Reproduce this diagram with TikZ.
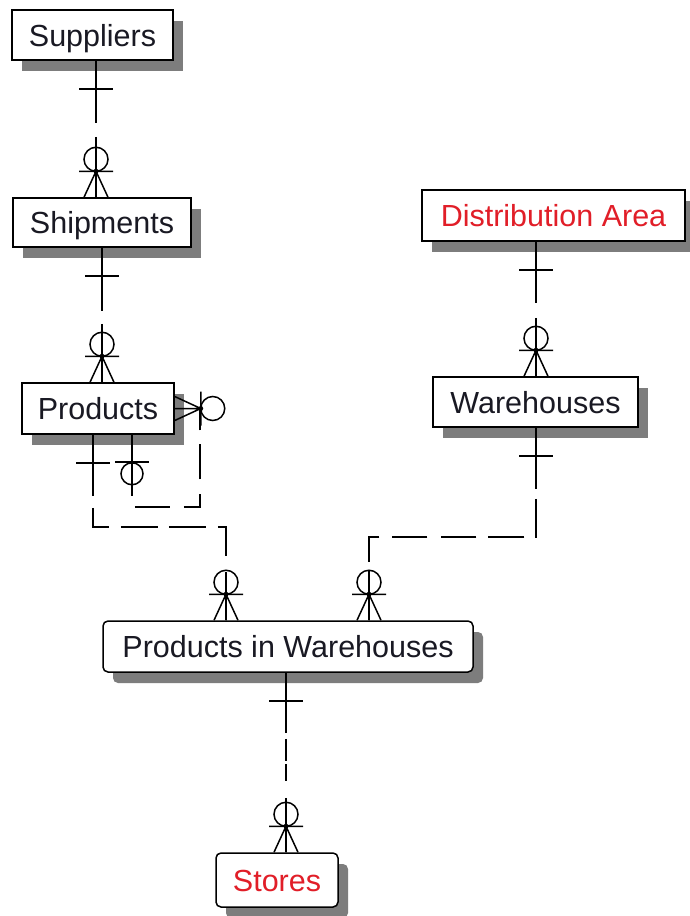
\documentclass[tikz,border=0pt]{standalone}
\usepackage{fontspec}
\setmainfont{Liberation Sans}
\usetikzlibrary{shadows,calc}
\definecolor{erred}{RGB}{225,30,40}
\definecolor{ertext}{RGB}{25,25,35}
\definecolor{shadowgray}{RGB}{125,125,125}
\tikzset{
  ent/.style={draw=black, line width=1.5pt, fill=white, inner sep=0pt,
    text height=22pt, text depth=0pt, text=ertext,
    font=\fontsize{30.5pt}{36pt}\selectfont,
    drop shadow={shadow xshift=10pt, shadow yshift=-11pt, fill=shadowgray, opacity=1}},
  dep/.style={ent, rounded corners=5pt},
  rel/.style={line width=1.6pt, line cap=butt},
  sym/.style={line width=1.5pt, solid, line cap=butt},
  onebar/.pic={\draw[sym] (-17,28) -- (17,28);},
  zeroone/.pic={\draw[sym] (-17,27) -- (17,27); \draw[sym] (0,39) circle[radius=11pt];},
  zeromany/.pic={\draw[sym] (-12,0) -- (0,26) -- (12,0) (-17,26) -- (17,26) (0,0) -- (0,26);
    \draw[sym] (0,38) circle[radius=12pt]; \fill (0,26) circle[radius=2.5pt];},
}
\begin{document}
\begin{tikzpicture}[x=1pt,y=-1pt]
\useasboundingbox (0,0) rectangle (689,916);
\fill[white] (0,0) rectangle (689,916);
% entities
\node[ent, minimum width=161pt, minimum height=50pt] (sup) at (92.5,35) {Suppliers};
\node[ent, minimum width=178pt, minimum height=49pt] (ship) at (102,222.5) {Shipments};
\node[ent, minimum width=152pt, minimum height=51pt] (prod) at (98,408.5) {Products};
\node[ent, minimum width=263pt, minimum height=51pt, text=erred] (dist) at (553.5,215.5) {Distribution Area};
\node[ent, minimum width=205pt, minimum height=50pt] (wh) at (535.5,402) {Warehouses};
\node[dep, minimum width=370pt, minimum height=51pt] (piw) at (288,646.5) {Products in Warehouses};
\node[dep, minimum width=122pt, minimum height=54pt, text=erred] (sto) at (277,880) {Stores};
% helper coordinates
\coordinate (x93) at (93,0);
\coordinate (x96) at (96,0);
\coordinate (x102) at (102,0);
\coordinate (x132) at (132,0);
\coordinate (x226) at (226,0);
\coordinate (x286) at (286,0);
\coordinate (x369) at (369,0);
\coordinate (x536) at (536,0);
\coordinate (y507) at (0,507);
\coordinate (y527) at (0,527);
\coordinate (y537) at (0,537);
\coordinate (x200) at (200,0);
% connectors
\draw[rel, dash pattern=on 62pt off 14pt on 80pt off 5pt] (sup.south -| x96) -- (ship.north -| x96);
\draw[rel, dash pattern=on 63pt off 13pt on 80pt off 5pt] (ship.south -| x102) -- (prod.north -| x102);
\draw[rel, dash pattern=on 61pt off 15pt on 80pt off 5pt] (dist.south -| x536) -- (wh.north -| x536);
\draw[rel, dash pattern=on 60pt off 6pt on 22pt off 3pt on 17pt off 17pt on 70pt off 5pt] (piw.south -| x286) -- (sto.north -| x286);
\draw[rel, dash pattern=on 61pt off 12pt on 35pt off 12pt on 37pt off 11pt on 37pt off 12pt on 37pt off 16pt on 60pt off 5pt]
  (prod.south -| x93) -- (x93 |- y527) -- (x226 |- y527) -- (piw.north -| x226);
\draw[rel, dash pattern=on 61pt off 10pt on 39pt off 11pt on 36pt off 12pt on 35pt off 14pt on 35pt off 13pt on 35pt off 9pt on 60pt off 5pt]
  (wh.south -| x536) -- (x536 |- y537) -- (x369 |- y537) -- (piw.north -| x369);
\draw[rel, dash pattern=on 61pt off 14pt on 35pt off 14pt on 29pt off 15pt on 35pt off 14pt on 60pt off 5pt]
  (prod.south -| x132) -- (x132 |- y507) -- (x200 |- y507) |- (prod.east);
% cardinality symbols
\pic at (sup.south -| x96) {onebar};
\pic[rotate=180] at (ship.north -| x96) {zeromany};
\pic at (ship.south -| x102) {onebar};
\pic[rotate=180] at (prod.north -| x102) {zeromany};
\pic at (dist.south -| x536) {onebar};
\pic[rotate=180] at (wh.north -| x536) {zeromany};
\pic at (wh.south -| x536) {onebar};
\pic at (prod.south -| x93) {onebar};
\pic at (prod.south -| x132) {zeroone};
\pic[rotate=90] at (prod.east) {zeromany};
\pic[rotate=180] at (piw.north -| x226) {zeromany};
\pic[rotate=180] at (piw.north -| x369) {zeromany};
\pic at (piw.south -| x286) {onebar};
\pic[rotate=180] at (sto.north -| x286) {zeromany};
\end{tikzpicture}
\end{document}
